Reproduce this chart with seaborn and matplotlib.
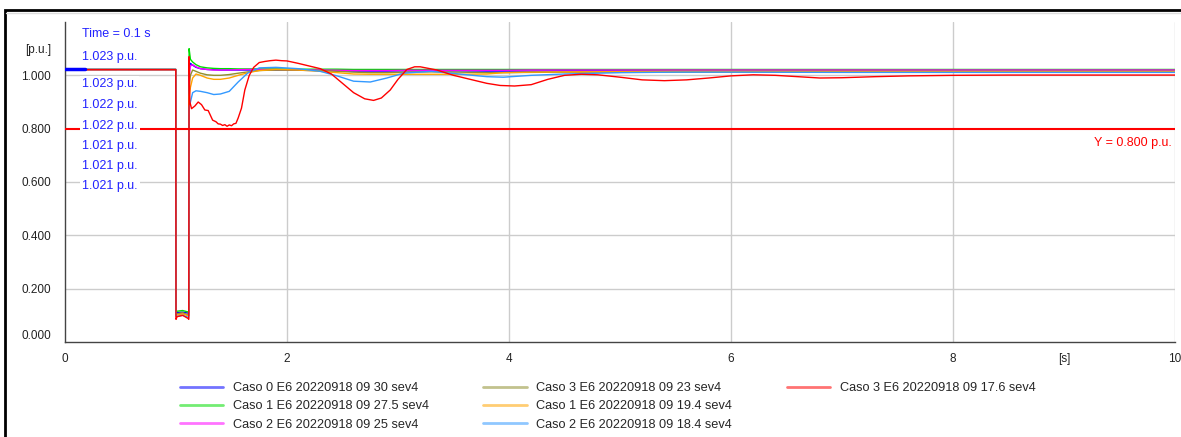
import matplotlib
matplotlib.use("Agg")
import matplotlib.pyplot as plt
import seaborn as sns
from matplotlib.patches import Rectangle
from matplotlib.lines import Line2D
from matplotlib.ticker import FixedLocator, FixedFormatter

# curvas de tension [p.u.] vs tiempo [s]
t_comun = [0, 0.998, 1.0, 1.06, 1.115, 1.118, 1.13, 1.15, 1.18, 1.22, 1.28, 1.34, 1.40, 1.48,
           1.56, 1.65, 1.75, 1.9, 2.1, 2.3, 2.45, 2.6, 2.75, 2.9, 3.05, 3.3, 3.55, 3.8, 3.95,
           4.2, 4.5, 5.0, 5.5, 6.0, 7.0, 8.0, 9.0, 10.0]

v_caso0_30 = [1.022, 1.022, 0.11, 0.112, 0.108, 1.03, 1.045, 1.038, 1.03, 1.025, 1.022, 1.021,
              1.02, 1.02, 1.02, 1.02, 1.02, 1.02, 1.019, 1.018, 1.017, 1.016, 1.016, 1.016,
              1.017, 1.017, 1.017, 1.016, 1.016, 1.016, 1.017, 1.017, 1.017, 1.017, 1.017,
              1.017, 1.017, 1.017]
v_caso1_275 = [1.022, 1.022, 0.115, 0.118, 0.112, 1.10, 1.06, 1.05, 1.04, 1.032, 1.028, 1.026,
               1.025, 1.025, 1.024, 1.024, 1.024, 1.024, 1.023, 1.023, 1.023, 1.022, 1.022,
               1.022, 1.022, 1.022, 1.022, 1.022, 1.022, 1.022, 1.022, 1.022, 1.022, 1.022,
               1.022, 1.022, 1.022, 1.022]
v_caso2_25 = [1.022, 1.022, 0.105, 0.108, 0.10, 0.99, 1.035, 1.04, 1.032, 1.025, 1.022, 1.02,
              1.02, 1.02, 1.021, 1.022, 1.022, 1.022, 1.021, 1.02, 1.019, 1.018, 1.018, 1.018,
              1.019, 1.019, 1.019, 1.019, 1.019, 1.02, 1.02, 1.02, 1.02, 1.02, 1.02, 1.02,
              1.02, 1.02]
v_caso3_23 = [1.022, 1.022, 0.105, 0.11, 0.10, 0.96, 1.0, 1.02, 1.015, 1.008, 1.002, 1.0,
              1.0, 1.003, 1.008, 1.013, 1.018, 1.02, 1.02, 1.018, 1.015, 1.012, 1.01, 1.01,
              1.012, 1.013, 1.012, 1.01, 1.01, 1.011, 1.012, 1.012, 1.012, 1.012, 1.012,
              1.012, 1.012, 1.012]
v_caso1_194 = [1.022, 1.022, 0.10, 0.105, 0.098, 0.92, 0.955, 0.99, 1.005, 1.0, 0.99, 0.985,
               0.985, 0.99, 1.0, 1.01, 1.018, 1.022, 1.02, 1.015, 1.01, 1.005, 1.004, 1.004,
               1.004, 1.004, 1.004, 1.005, 1.01, 1.012, 1.013, 1.014, 1.015, 1.015, 1.015,
               1.015, 1.015, 1.015]
v_caso2_184 = [1.022, 1.022, 0.095, 0.10, 0.092, 0.877, 0.90, 0.935, 0.942, 0.94, 0.935, 0.928,
               0.93, 0.94, 0.975, 1.01, 1.028, 1.03, 1.025, 1.015, 0.998, 0.978, 0.975, 0.99,
               1.008, 1.015, 1.005, 0.995, 0.993, 1.0, 1.005, 1.01, 1.012, 1.012, 1.011,
               1.011, 1.011, 1.011]

# caso 3 17.6 tiene su propio muestreo (oscilacion mas fuerte)
t_caso3_176 = [0, 0.998, 1.0, 1.01, 1.06, 1.11, 1.115, 1.118, 1.125, 1.14, 1.17, 1.2, 1.23,
               1.26, 1.29, 1.31, 1.33, 1.36, 1.38, 1.40, 1.42, 1.44, 1.46, 1.48, 1.50, 1.52,
               1.54, 1.56, 1.59, 1.62, 1.66, 1.70, 1.75, 1.80, 1.85, 1.90, 1.95, 2.0, 2.1,
               2.2, 2.3, 2.4, 2.5, 2.6, 2.7, 2.78, 2.85, 2.93, 3.0, 3.08, 3.15, 3.2, 3.25,
               3.35, 3.5, 3.65, 3.8, 3.92, 4.05, 4.2, 4.35, 4.5, 4.65, 4.8, 5.0, 5.2, 5.4,
               5.6, 5.8, 6.0, 6.2, 6.4, 6.6, 6.8, 7.0, 7.3, 7.6, 8.0, 8.5, 9.0, 10.0]
v_caso3_176 = [1.021, 1.021, 0.085, 0.095, 0.100, 0.088, 0.085, 1.07, 0.90, 0.875, 0.885,
               0.900, 0.890, 0.870, 0.868, 0.850, 0.832, 0.826, 0.818, 0.817, 0.812, 0.815,
               0.809, 0.814, 0.811, 0.818, 0.820, 0.840, 0.877, 0.945, 1.00, 1.03, 1.048,
               1.052, 1.055, 1.057, 1.055, 1.054, 1.045, 1.035, 1.025, 1.005, 0.97, 0.935,
               0.912, 0.906, 0.915, 0.945, 0.985, 1.022, 1.032, 1.032, 1.028, 1.02, 1.0,
               0.985, 0.97, 0.962, 0.96, 0.965, 0.985, 1.0, 1.004, 1.002, 0.993, 0.983,
               0.98, 0.983, 0.99, 0.998, 1.002, 1.0, 0.995, 0.99, 0.991, 0.995, 0.998, 1.0,
               1.001, 1.001, 1.001]

nombres = ['Caso 0 E6 20220918 09 30 sev4', 'Caso 1 E6 20220918 09 27.5 sev4',
           'Caso 2 E6 20220918 09 25 sev4', 'Caso 3 E6 20220918 09 23 sev4',
           'Caso 1 E6 20220918 09 19.4 sev4', 'Caso 2 E6 20220918 09 18.4 sev4',
           'Caso 3 E6 20220918 09 17.6 sev4']
colores = ['#0000ff', '#00dd00', '#ff00ff', '#909030', '#ffa500', '#3399ff', '#ff0000']

# lecturas del cursor
cursor_t = [0.0, 0.18]
cursor_v = [1.022, 1.022]
lecturas = ['1.023 p.u.', '1.023 p.u.', '1.022 p.u.', '1.022 p.u.', '1.021 p.u.',
            '1.021 p.u.', '1.021 p.u.']
y_limite = 0.8

series = [(t_comun, v_caso0_30), (t_comun, v_caso1_275), (t_comun, v_caso2_25),
          (t_comun, v_caso3_23), (t_comun, v_caso1_194), (t_comun, v_caso2_184),
          (t_caso3_176, v_caso3_176)]

sns.set_style('white')
plt.rcParams['font.family'] = ['Liberation Sans', 'DejaVu Sans']
plt.rcParams['font.size'] = 8.5

fig = plt.figure(figsize=(11.81, 4.37), dpi=100)
ax = fig.add_axes([65/1181, 1 - 342/437, 1110/1181, 320/437])

for (tt, vv), nombre, c in zip(series, nombres, colores):
    sns.lineplot(x=tt, y=vv, ax=ax, color=c, linewidth=1.0, label=nombre,
                 estimator=None, sort=False)

sns.lineplot(x=cursor_t, y=cursor_v, ax=ax, color='#0000ff', linewidth=2.5,
             estimator=None, sort=False, zorder=5)
ax.axhline(y_limite, color='#ff0000', linewidth=1.5, zorder=4)

ax.set_xlim(0, 10)
ax.set_ylim(0, 1.2)

# ejes
xt = [i * 0.5 for i in range(21)]
xl = ['0', '', '', '', '2', '', '', '', '4', '', '', '', '6', '', '', '', '8', '', '[s]', '', '10']
ax.xaxis.set_major_locator(FixedLocator(xt))
ax.xaxis.set_major_formatter(FixedFormatter(xl))
yt = [i * 0.05 for i in range(24)]
yl = []
for i in range(24):
    if i % 4 == 0:
        yl.append(f'{i*0.05:.3f}')
    elif i == 22:
        yl.append('[p.u.]')
    else:
        yl.append('')
ax.yaxis.set_major_locator(FixedLocator(yt))
ax.yaxis.set_major_formatter(FixedFormatter(yl))
ax.tick_params(direction='in', length=7, width=0.8, color='#888888', labelsize=8.5,
               labelcolor='#222222')
ax.tick_params(axis='x', pad=8)
ax.tick_params(axis='y', pad=10)

for g in [2, 4, 6, 8, 10]:
    ax.axvline(g, color='#cccccc', linewidth=1, zorder=0)
for g in [0.2, 0.4, 0.6, 1.0]:
    ax.axhline(g, color='#cccccc', linewidth=1, zorder=0)

for s in ['top', 'right']:
    ax.spines[s].set_visible(False)
for s in ['left', 'bottom']:
    ax.spines[s].set_color('#444444')
    ax.spines[s].set_linewidth(1)

# textos del cursor
ax.text(0.153, 1.155, 'Time = 0.1 s', color='#2222ff', fontsize=9, va='center', zorder=10)
y_txt = [1.069, 0.967, 0.889, 0.810, 0.735, 0.660, 0.585]
for yy, txt in zip(y_txt, lecturas):
    ax.text(0.153, yy, txt, color='#2222ff', fontsize=9, va='center', zorder=10,
            bbox=dict(facecolor='white', edgecolor='none', pad=1.5))
ax.text(9.97, 0.746, 'Y = 0.800 p.u.', color='#ff0000', fontsize=9, va='center',
        ha='right')

# leyenda abajo, 3 columnas (3 + 3 + 1)
h, l = ax.get_legend_handles_labels()
ax.get_legend().remove()
h = h[:7] + [Line2D([], [], color='none'), Line2D([], [], color='none')]
l = l[:7] + ['', '']
leg = fig.legend(h, l, ncol=3, frameon=False, loc='upper left',
                 bbox_to_anchor=(180/1181, 1 - 382/437), borderpad=0, borderaxespad=0,
                 handlelength=3.4, handletextpad=0.75, columnspacing=4.25,
                 labelspacing=0.5, fontsize=9.2)
for ln in leg.get_lines():
    ln.set_linewidth(2)
    ln.set_alpha(0.55)

# marco de la ventana
fig.add_artist(Rectangle((5/1181, -0.1), 1.2, 1 - 10/437 + 0.1, transform=fig.transFigure,
                         fill=False, edgecolor='black', linewidth=2))
fig.add_artist(Line2D([6/1181, 1], [1 - 13/437, 1 - 13/437], transform=fig.transFigure,
                      color='#dddddd', linewidth=1))

fig.canvas.draw()
ax.yaxis.get_major_ticks()[0].label1.set_verticalalignment('bottom')

fig.savefig('out.png', dpi=100)
